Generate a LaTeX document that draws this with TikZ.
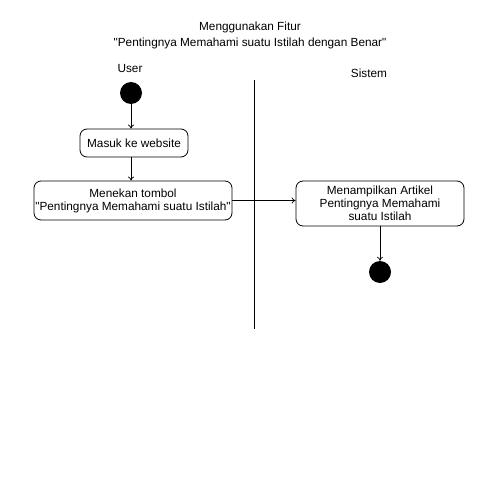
\documentclass[tikz,border=0pt]{standalone}
\usepackage{fontspec}
\setmainfont{Liberation Sans}
\usetikzlibrary{arrows.meta}
\begin{document}
\begin{tikzpicture}[x=1pt,y=-1pt,
  act/.style={draw,rounded corners=7pt,line width=0.8pt,align=center,inner sep=0pt,font=\fontsize{11.8}{13}\selectfont},
  dot/.style={circle,fill=black,minimum size=22pt,inner sep=0pt},
  flow/.style={-{To[length=4pt,width=6pt]},line width=0.7pt},
  lbl/.style={font=\fontsize{11.8}{16}\selectfont,align=center}]
\useasboundingbox (0,0) rectangle (500,500);
\node[lbl] (title) at (250,35.5) {Menggunakan Fitur\\\textquotedbl Pentingnya Memahami suatu Istilah dengan Benar\textquotedbl};
\node[lbl] (user) at (130,68) {User};
\node[lbl] (sistem) at (369,73) {Sistem};
\coordinate (lt) at (254,80);
\coordinate (lb) at (254,329);
\draw[line width=0.8pt] (lt) -- (lb);
\node[dot] (start) at (131,93) {};
\node[act,minimum width=108pt,minimum height=28pt] (a1) at (134,143) {Masuk ke website};
\node[act,minimum width=198pt,minimum height=39pt] (a2) at (133,200.5) {Menekan tombol\\\textquotedbl Pentingnya Memahami suatu Istilah\textquotedbl};
\node[act,minimum width=168pt,minimum height=45pt] (a3) at (380,203.5) {Menampilkan Artikel\\Pentingnya Memahami\\suatu Istilah};
\node[dot] (end) at (380,272) {};
\draw[flow] (start) -- (start|-a1.north);
\draw[flow] (a1.south-|start) -- (a2.north-|start);
\draw[flow] (a2.east) -- (a3.west|-a2.east);
\draw[flow] (a3.south) -- (end.north);
\end{tikzpicture}
\end{document}
